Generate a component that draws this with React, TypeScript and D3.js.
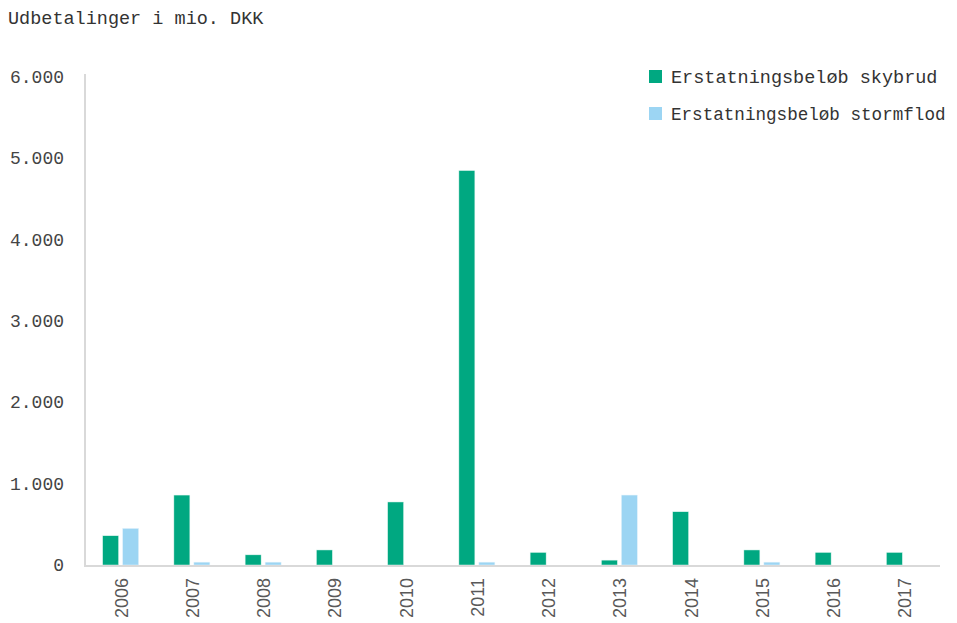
import React from "react";
import * as d3 from "d3";

const years = ["2006","2007","2008","2009","2010","2011","2012","2013","2014","2015","2016","2017"];
const skybrud = [360, 860, 125, 185, 775, 4850, 155, 60, 655, 185, 155, 155];
const stormflod = [450, 35, 35, 0, 0, 35, 0, 860, 0, 35, 0, 0];
const yTicks = [0, 1000, 2000, 3000, 4000, 5000, 6000];
const seriesNames = ["Erstatningsbeløb skybrud", "Erstatningsbeløb stormflod"];
const colors = ["#00a881", "#9cd5f3"];

const W = 957, H = 623;
const left = 85, right = 940, top = 77, bottom = 565;

export default function App() {
  const x = d3.scaleBand<string>().domain(years).range([left, right]);
  const y = d3.scaleLinear().domain([0, 6000]).range([bottom, top]);
  const fmt = (v: number) => (v === 0 ? "0" : d3.format(",")(v).replace(/,/g, "."));
  const mono = "'Liberation Mono', 'DejaVu Sans Mono', monospace";
  const bw = 16;
  const legendSize = [18.5, 17.6];
  return (
    <svg width={W} height={H} style={{ position: "absolute", left: 0, top: 0, background: "#fff" }}>
      <text x={8} y={24} fontFamily={mono} fontSize={18.5} fill="#333">Udbetalinger i mio. DKK</text>
      {yTicks.map((t) => (
        <text key={t} x={64} y={y(t) + 6} textAnchor="end" fontFamily={mono} fontSize={18} fill="#444">{fmt(t)}</text>
      ))}
      {years.map((yr, i) => {
        const c = x(yr)! + x.bandwidth() / 2;
        return (
          <g key={yr}>
            <rect x={c - 18} y={y(skybrud[i])} width={bw} height={bottom - y(skybrud[i])} fill={colors[0]} stroke="#e6f7f2" strokeWidth={0.5} />
            {stormflod[i] > 0 && (
              <rect x={c + 2} y={y(stormflod[i])} width={bw} height={bottom - y(stormflod[i])} fill={colors[1]} stroke="#e6f4fc" strokeWidth={0.5} />
            )}
            <text transform={`translate(${c + 7},${578}) rotate(-90)`} textAnchor="end" fontFamily="'Liberation Sans', Arial, sans-serif" fontSize={18} fill="#595959">{yr}</text>
          </g>
        );
      })}
      <line x1={left} x2={left} y1={74} y2={bottom + 2} stroke="#d9d9d9" strokeWidth={2} />
      <line x1={left - 1} x2={right} y1={bottom + 1} y2={bottom + 1} stroke="#d9d9d9" strokeWidth={2} />
      {seriesNames.map((s, i) => (
        <g key={s}>
          <rect x={649} y={70 + i * 37} width={13} height={13} fill={colors[i]} />
          <text x={671} y={83 + i * 37} fontFamily={mono} fontSize={legendSize[i]} fill="#333">{s}</text>
        </g>
      ))}
    </svg>
  );
}
